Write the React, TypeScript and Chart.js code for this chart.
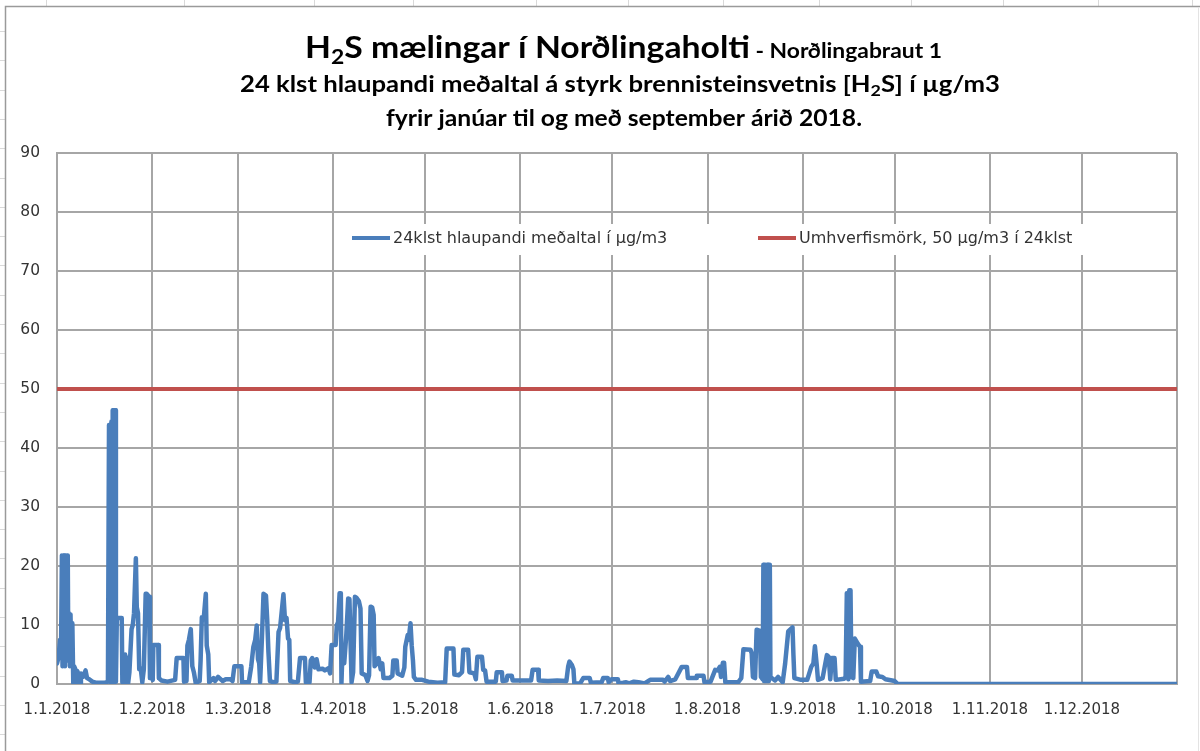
import React, { useEffect, useRef } from 'react';
import { Chart, registerables } from 'chart.js';

Chart.register(...registerables);

// ---- data ----
const monthStarts = [0, 31, 59, 90, 120, 151, 181, 212, 243, 273, 304, 334, 365];
const monthLabels = ['1.1.2018', '1.2.2018', '1.3.2018', '1.4.2018', '1.5.2018', '1.6.2018', '1.7.2018', '1.8.2018', '1.9.2018', '1.10.2018', '1.11.2018', '1.12.2018', ''];

const seriesLabels = ['24klst hlaupandi meðaltal í µg/m3', 'Umhverfismörk, 50 µg/m3 í 24klst'];

// day of year (0 = 1.1.2018) and 24h running mean H2S µg/m3
const days = [
  0, 0.5, 1.0, 1.3, 1.6, 1.8, 2.0, 2.2, 2.4, 2.6, 2.8, 3.0, 3.2, 3.5, 3.7, 3.9, 4.2, 4.4, 4.7, 5.0,
  5.3, 5.6, 6.0, 6.3, 6.6, 7.2, 7.5, 7.8, 8.5, 9.3, 9.8, 10.5, 11.5, 13, 15.5, 16.6,
  16.95, 17.15, 17.35, 17.55, 17.75, 17.95, 18.15, 18.35, 18.55, 18.75, 19.0, 19.2,
  19.5, 21.1, 21.3, 21.6, 21.9, 22.2, 22.5,
  22.9, 23.2, 23.6, 24.3, 24.7, 25.1, 25.7, 26.0, 26.4, 26.8, 27.3, 27.8, 28.3, 28.9, 29.2, 30.0, 30.3, 30.6, 31.2, 31.4,
  33.0, 33.2, 34, 36, 38.5, 39.0, 41.2, 41.4, 42.2, 42.5, 43.0, 43.6, 44.1, 44.6, 45.2, 46.5, 46.8, 47.2, 47.8, 48.5,
  48.8, 49.3, 49.6, 51, 51.5, 52.5, 54, 55, 56.5, 57.2, 57.8, 60.1, 60.3, 62.5, 63.3, 64.0, 64.6, 65.1, 65.5, 65.9,
  66.2, 66.8, 67.3, 68.1, 68.5, 68.9, 69.4, 70.5, 71.5, 72.2, 72.7, 73.8, 74.3, 74.8, 75.3, 75.7, 76.0, 77.5, 78.5, 79.2,
  80.8, 81.1, 82.3, 82.7, 83.2, 84.0, 84.6, 85.2, 86.5, 87.3, 88.5, 89.0, 89.5, 90.8, 91.2, 91.6, 92.1, 92.5, 92.7, 93.0,
  93.6, 94.3, 94.9, 95.3, 95.7, 96.0, 96.5, 97.1, 97.6, 98.4, 98.9, 99.3, 100.5, 101.2, 101.7, 102.2, 102.7, 103.2, 103.5, 104.2,
  104.8, 105.5, 106.0, 106.4, 108.3, 109.3, 109.6, 110.7, 111.0, 112.5, 113.2, 113.5, 114.3, 114.6, 115.2, 115.6, 116.0, 116.3, 117, 119,
  121, 124, 126.5, 127.0, 129.2, 129.5, 131.0, 132.0, 132.4, 134.0, 134.4, 136.0, 136.5, 137.0, 138.5, 138.9, 139.5, 140.0, 143.0, 143.3,
  145.0, 145.2, 146.5, 146.8, 148.2, 148.5, 154.5, 155.0, 156.8, 157.0, 160, 163, 166.0, 166.6, 167.0, 167.8, 168.3, 168.6, 170.5, 171.5,
  173.6, 174.0, 177.5, 178.0, 179.5, 179.8, 180.7, 182.8, 183.0, 184.5, 185.5, 186.5, 188.0, 189.5, 191.5, 193.3, 197.5, 198.0, 199.2, 199.8,
  201.5, 203.6, 205.3, 205.6, 208.3, 208.5, 210.7, 211.0, 213.0, 214.5, 215.3, 216.0, 216.4, 217.0, 217.4, 217.8, 222, 223.0, 223.7, 226.0,
  226.4, 226.8, 227.5, 228.0, 229.1, 229.4, 230.0,
  230.2, 230.4, 230.6, 230.8, 231.0, 231.2, 231.4, 231.6, 231.8, 232.0, 232.3, 232.5,
  234.0, 235.0, 236.5, 237.3, 238.3, 239.7, 240.0,
  240.3, 242.5, 244.5, 245.8, 246.5, 247.0, 247.6, 248.0, 249.5, 250.9, 251.5, 252.0, 252.5, 253.4, 253.8, 256.5, 257.0, 257.4, 257.9, 258.2, 258.6, 258.9,
  259.5, 260.0, 261.0, 261.7, 262.0, 265.0, 265.5, 267.0, 267.6, 269.0, 270.0, 273.0, 274.0, 365,
];

const h2s = [
  3.5, 4.5, 7.5, 5, 21.8, 3, 21.8, 4, 21.8, 3, 21.8, 4, 21.8, 21.8, 4, 12, 3, 11.8, 3.5, 10.3,
  0.2, 3, 2.5, 0.3, 2.2, 1.2, 0.2, 1.8, 1.2, 2.3, 1.0, 0.8, 0.4, 0.2, 0.2, 0.4,
  43.9, 0.4, 43.9, 0.4, 44.5, 0.4, 46.4, 0.4, 46.4, 0.4, 46.4, 0.4,
  11.2, 11.2, 0.3, 4, 2, 5, 0.2,
  4.5, 0.2, 2, 9.3, 10, 12, 21.3, 13, 12, 2.5, 2.6, 0.3, 2.5, 15.3, 15.3, 14.8, 1, 1.5, 0.7, 6.6,
  6.6, 1, 0.6, 0.4, 0.7, 4.4, 4.4, 0.4, 0.5, 6.5, 7.5, 9.3, 3, 2, 0.2, 0.5, 4, 11.3, 11, 15.3,
  6.5, 5, 0.3, 1, 0.5, 1.2, 0.5, 0.8, 0.8, 0.5, 3, 3, 0.3, 0.3, 3, 6.3, 7.5, 9.9, 4.2, 3.5,
  0.3, 8, 15.3, 15, 11, 5.5, 0.5, 0.3, 0.4, 8.8, 9.5, 15.2, 10.8, 11.2, 7.7, 7.5, 0.5, 0.3, 0.4, 4.4,
  4.4, 0.3, 0.3, 4, 4.4, 2.8, 4.2, 2.5, 2.6, 2.3, 2.7, 1.8, 6.6, 6.6, 10, 10.5, 15.4, 15.4, 0.2, 5,
  3.5, 8.5, 14.5, 14.4, 6.5, 0.3, 2, 14.8, 14.6, 14, 12.8, 1.8, 1.5, 0.5, 1.5, 13.1, 13, 11.7, 3, 3.5,
  4.4, 2.5, 3.5, 1, 1, 1.4, 4, 4, 1.8, 1.4, 2.8, 6.3, 8.3, 7.5, 10.3, 6.5, 4, 1.2, 0.7, 0.7,
  0.4, 0.2, 0.3, 6, 6, 1.6, 1.5, 2, 5.8, 5.8, 2, 1.8, 0.8, 4.6, 4.6, 2.4, 2.3, 0.4, 0.4, 2,
  2, 0.5, 0.6, 1.4, 1.4, 0.6, 0.6, 2.4, 2.4, 0.6, 0.5, 0.6, 0.5, 3, 3.8, 3.2, 2.5, 0.1, 0.1, 1,
  1, 0.2, 0.3, 1, 1, 0.3, 0.8, 0.8, 0.1, 0.2, 0.3, 0.1, 0.4, 0.3, 0.1, 0.7, 0.7, 0.4, 1.2, 0.5,
  0.8, 2.9, 2.9, 1, 1, 1.4, 1.4, 0.3, 0.4, 2.4, 2.3, 2.9, 1.2, 3.6, 3.6, 0.3, 0.3, 1, 5.9, 5.8,
  5.2, 1.2, 1, 9.2, 9, 1.2, 0.8,
  20.2, 0.5, 20.2, 0.5, 20.2, 0.5, 20.2, 0.5, 20.2, 0.5, 20.2, 1.2,
  0.6, 1.2, 0.3, 3.5, 8.9, 9.6, 4.9,
  1, 0.7, 0.7, 2.9, 3.5, 6.4, 3.2, 0.7, 1, 4.9, 4.6, 0.8, 4.4, 4.4, 0.7, 0.9, 1.2, 15.4, 0.8, 15.9, 15.9, 1.2,
  1.0, 7.7, 6.8, 6.3, 0.4, 0.5, 2.1, 2.1, 1.3, 1.2, 0.8, 0.5, 0, 0,
];

const limitDays = [0, 365];
const limitValues = [50, 50];

const BLUE = '#4a7ebb';
const RED = '#c0504d';
const GRID = '#a6a6a6';
const TEXT = '#333333';

type Seg = { t: string; size: number; dy?: number };

function drawRich(ctx: CanvasRenderingContext2D, segs: Seg[], left: number, right: number, baseline: number) {
  const fam = 'Lato, "Open Sans", sans-serif';
  let w = 0;
  const widths: number[] = [];
  for (const s of segs) {
    ctx.font = `bold ${s.size}px ${fam}`;
    const mw = ctx.measureText(s.t).width;
    widths.push(mw);
    w += mw;
  }
  const sx = (right - left) / w;
  ctx.save();
  ctx.translate(left, baseline);
  ctx.scale(sx, 1);
  ctx.fillStyle = '#000000';
  ctx.textBaseline = 'alphabetic';
  ctx.textAlign = 'left';
  let x = 0;
  segs.forEach((s, i) => {
    ctx.font = `bold ${s.size}px ${fam}`;
    ctx.fillText(s.t, x, s.dy || 0);
    x += widths[i];
  });
  ctx.restore();
}

const decorPlugin = {
  id: 'decor',
  beforeDraw(chart: any) {
    const ctx = chart.ctx as CanvasRenderingContext2D;
    const W = chart.width;
    const H = chart.height;
    ctx.save();
    ctx.fillStyle = '#ffffff';
    ctx.fillRect(0, 0, W, H);
    // faint spreadsheet cell marks outside the chart frame
    ctx.strokeStyle = '#d9d9d9';
    ctx.lineWidth = 1;
    const cols = [46, 184, 314, 413, 536, 628, 723, 819, 911, 1003, 1098, 1192];
    cols.forEach((c) => {
      ctx.beginPath();
      ctx.moveTo(c + 0.5, 0);
      ctx.lineTo(c + 0.5, 6);
      ctx.stroke();
    });
    for (let r = 31; r < H; r += 29.3) {
      ctx.beginPath();
      ctx.moveTo(0, Math.round(r) + 0.5);
      ctx.lineTo(5, Math.round(r) + 0.5);
      ctx.stroke();
    }
    // chart frame
    ctx.strokeStyle = '#9a9a9a';
    ctx.lineWidth = 1.5;
    ctx.beginPath();
    ctx.moveTo(5.5, H + 2);
    ctx.lineTo(5.5, 6.5);
    ctx.lineTo(W + 2, 6.5);
    ctx.stroke();
    ctx.strokeStyle = '#e3e3e3';
    ctx.lineWidth = 1;
    ctx.beginPath();
    ctx.moveTo(1198.5, 7);
    ctx.lineTo(1198.5, H);
    ctx.stroke();
    ctx.restore();
  },
  afterDraw(chart: any) {
    const ctx = chart.ctx as CanvasRenderingContext2D;
    // title
    drawRich(ctx, [
      { t: 'H', size: 31 },
      { t: '2', size: 21, dy: 6 },
      { t: 'S mælingar í Norðlingaholti', size: 31 },
      { t: ' - Norðlingabraut 1', size: 21 },
    ], 305, 942, 58);
    drawRich(ctx, [
      { t: '24 klst hlaupandi meðaltal á styrk brennisteinsvetnis [H', size: 23 },
      { t: '2', size: 16, dy: 4 },
      { t: 'S] í µg/m3', size: 23 },
    ], 240, 1000, 92);
    drawRich(ctx, [
      { t: 'fyrir janúar til og með september árið 2018.', size: 23 },
    ], 386, 862, 126);

    // legend
    ctx.save();
    ctx.fillStyle = '#ffffff';
    ctx.fillRect(338, 224, 760, 31);
    ctx.lineCap = 'butt';
    ctx.lineWidth = 4;
    ctx.strokeStyle = BLUE;
    ctx.beginPath();
    ctx.moveTo(352, 238);
    ctx.lineTo(390, 238);
    ctx.stroke();
    ctx.strokeStyle = RED;
    ctx.beginPath();
    ctx.moveTo(758, 238);
    ctx.lineTo(796, 238);
    ctx.stroke();
    ctx.fillStyle = TEXT;
    ctx.font = '16px "DejaVu Sans"';
    ctx.textBaseline = 'middle';
    ctx.textAlign = 'left';
    ctx.fillText(seriesLabels[0], 393, 239);
    ctx.fillText(seriesLabels[1], 799, 239);
    ctx.restore();
  },
};

export default function App() {
  const ref = useRef<HTMLCanvasElement | null>(null);
  useEffect(() => {
    document.body.style.margin = '0';
    const canvas = ref.current;
    if (!canvas) return;
    const chart = new Chart(canvas, {
      type: 'line',
      data: {
        datasets: [
          {
            label: seriesLabels[0],
            data: days.map((d, i) => ({ x: d, y: h2s[i] })),
            borderColor: BLUE,
            backgroundColor: BLUE,
            borderWidth: 4.5,
            pointRadius: 0,
            tension: 0,
            borderJoinStyle: 'round',
            borderCapStyle: 'round',
            order: 2,
          },
          {
            label: seriesLabels[1],
            data: limitDays.map((d, i) => ({ x: d, y: limitValues[i] })),
            borderColor: RED,
            backgroundColor: RED,
            borderWidth: 4,
            pointRadius: 0,
            order: 1,
          },
        ],
      },
      options: {
        responsive: false,
        animation: false,
        devicePixelRatio: 1,
        layout: { padding: { top: 153, right: 23, left: 0, bottom: 0 } },
        plugins: {
          legend: { display: false },
          title: { display: false },
          tooltip: { enabled: false },
        },
        scales: {
          x: {
            type: 'linear',
            min: 0,
            max: 365,
            afterBuildTicks: (scale: any) => {
              scale.ticks = monthStarts.map((v) => ({ value: v }));
            },
            afterFit: (scale: any) => {
              scale.height = 67;
            },
            ticks: {
              autoSkip: false,
              maxRotation: 0,
              padding: 17,
              color: TEXT,
              font: { family: 'DejaVu Sans', size: 15 },
              callback: (value: any) => {
                const idx = monthStarts.indexOf(Number(value));
                return idx >= 0 ? monthLabels[idx] : '';
              },
            },
            grid: { color: GRID, lineWidth: 2, drawTicks: false },
            border: { display: true, color: GRID, width: 2 },
          },
          y: {
            min: 0,
            max: 90,
            afterFit: (scale: any) => {
              scale.width = 57;
            },
            ticks: {
              stepSize: 10,
              padding: 17,
              color: TEXT,
              font: { family: 'DejaVu Sans', size: 15.5 },
            },
            grid: { color: GRID, lineWidth: 2, drawTicks: false },
            border: { display: true, color: GRID, width: 2 },
          },
        },
      },
      plugins: [decorPlugin],
    } as any);
    return () => chart.destroy();
  }, []);
  return <canvas ref={ref} width={1200} height={751} style={{ display: 'block' }} />;
}
